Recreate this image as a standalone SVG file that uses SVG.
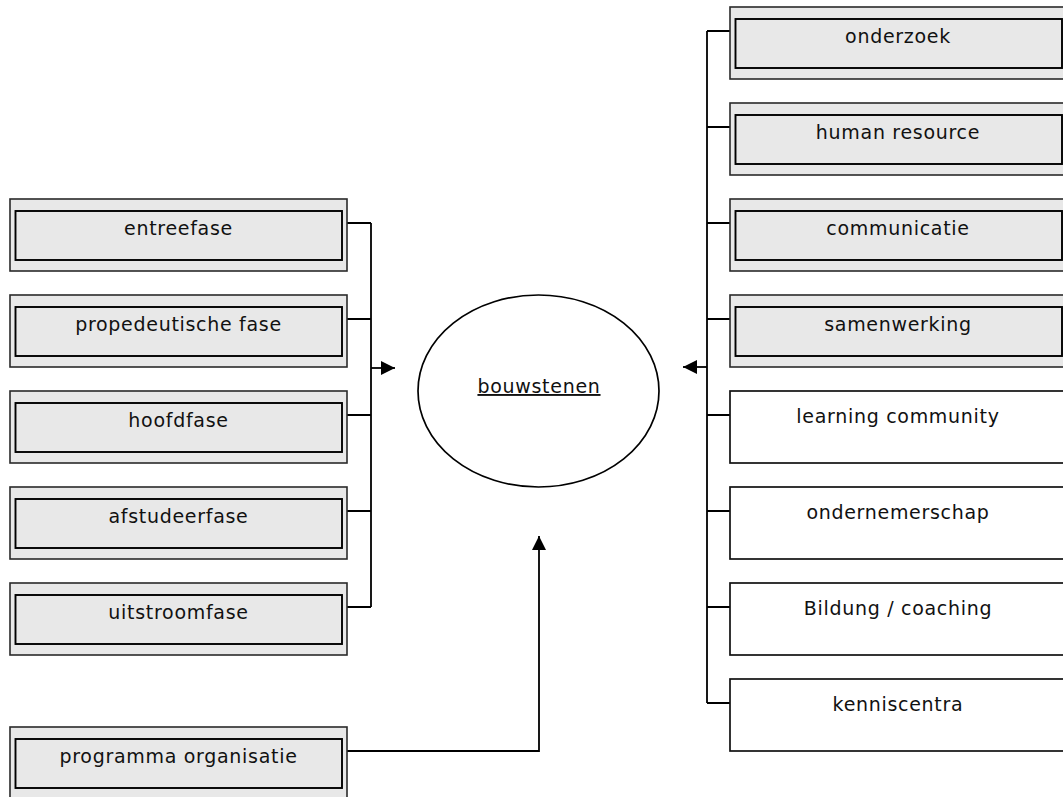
<svg xmlns="http://www.w3.org/2000/svg" width="1063" height="797" viewBox="0 0 1063 797">
<style>
.outer{fill:#e8e8e8;stroke:#2a2a2a;stroke-width:1.6}
.inner{fill:#e8e8e8;stroke:#000;stroke-width:1.9}
.plain{fill:#fff;stroke:#111;stroke-width:1.7}
.lbl{font-family:"DejaVu Sans",sans-serif;font-size:19px;letter-spacing:0.7px;fill:#111;text-anchor:middle}
.conn{fill:none;stroke:#000;stroke-width:1.8}
</style>
<defs>
<marker id="arr" viewBox="0 0 10 10" refX="10" refY="5" markerWidth="17" markerHeight="14" markerUnits="userSpaceOnUse" orient="auto">
<path d="M0,0 L10,5 L0,10 Z" fill="#000"/>
</marker>
</defs>
<rect width="1063" height="797" fill="#fff"/>
<g id="connectors">
<path class="conn" d="M347,223 H371 M347,319 H371 M347,415 H371 M347,511 H371 M347,607 H371 M371,223 V607"/>
<path class="conn" d="M371,368 H395" marker-end="url(#arr)"/>
<path class="conn" d="M730,31 H707 M730,127 H707 M730,223 H707 M730,319 H707 M730,415 H707 M730,511 H707 M730,607 H707 M730,703 H707 M707,31 V703"/>
<path class="conn" d="M707,367 H683" marker-end="url(#arr)"/>
<path class="conn" d="M347,751 H539 V536" marker-end="url(#arr)"/>
</g>
<g id="bouwstenen">
<ellipse cx="538.5" cy="391" rx="120.5" ry="96" fill="#fff" stroke="#000" stroke-width="1.7"/>
<text class="lbl" x="539" y="393" text-decoration="underline">bouwstenen</text>
</g>
<g id="entreefase"><rect class="outer" x="10" y="199" width="337" height="72"/><rect class="inner" x="15.5" y="211" width="326.5" height="49"/><text class="lbl" x="178.5" y="235">entreefase</text></g>
<g id="propedeutische-fase"><rect class="outer" x="10" y="295" width="337" height="72"/><rect class="inner" x="15.5" y="307" width="326.5" height="49"/><text class="lbl" x="178.5" y="331">propedeutische fase</text></g>
<g id="hoofdfase"><rect class="outer" x="10" y="391" width="337" height="72"/><rect class="inner" x="15.5" y="403" width="326.5" height="49"/><text class="lbl" x="178.5" y="427">hoofdfase</text></g>
<g id="afstudeerfase"><rect class="outer" x="10" y="487" width="337" height="72"/><rect class="inner" x="15.5" y="499" width="326.5" height="49"/><text class="lbl" x="178.5" y="523">afstudeerfase</text></g>
<g id="uitstroomfase"><rect class="outer" x="10" y="583" width="337" height="72"/><rect class="inner" x="15.5" y="595" width="326.5" height="49"/><text class="lbl" x="178.5" y="619">uitstroomfase</text></g>
<g id="programma-organisatie"><rect class="outer" x="10" y="727" width="337" height="72"/><rect class="inner" x="15.5" y="739" width="326.5" height="49"/><text class="lbl" x="178.5" y="763">programma organisatie</text></g>
<g id="onderzoek"><rect class="outer" x="730" y="7" width="337" height="72"/><rect class="inner" x="735.5" y="19" width="326.5" height="49"/><text class="lbl" x="898" y="43">onderzoek</text></g>
<g id="human-resource"><rect class="outer" x="730" y="103" width="337" height="72"/><rect class="inner" x="735.5" y="115" width="326.5" height="49"/><text class="lbl" x="898" y="139">human resource</text></g>
<g id="communicatie"><rect class="outer" x="730" y="199" width="337" height="72"/><rect class="inner" x="735.5" y="211" width="326.5" height="49"/><text class="lbl" x="898" y="235">communicatie</text></g>
<g id="samenwerking"><rect class="outer" x="730" y="295" width="337" height="72"/><rect class="inner" x="735.5" y="307" width="326.5" height="49"/><text class="lbl" x="898" y="331">samenwerking</text></g>
<g id="learning-community"><rect class="plain" x="730" y="391" width="337" height="72"/><text class="lbl" x="898" y="423">learning community</text></g>
<g id="ondernemerschap"><rect class="plain" x="730" y="487" width="337" height="72"/><text class="lbl" x="898" y="519">ondernemerschap</text></g>
<g id="bildung-coaching"><rect class="plain" x="730" y="583" width="337" height="72"/><text class="lbl" x="898" y="615">Bildung / coaching</text></g>
<g id="kenniscentra"><rect class="plain" x="730" y="679" width="337" height="72"/><text class="lbl" x="898" y="711">kenniscentra</text></g>
</svg>
